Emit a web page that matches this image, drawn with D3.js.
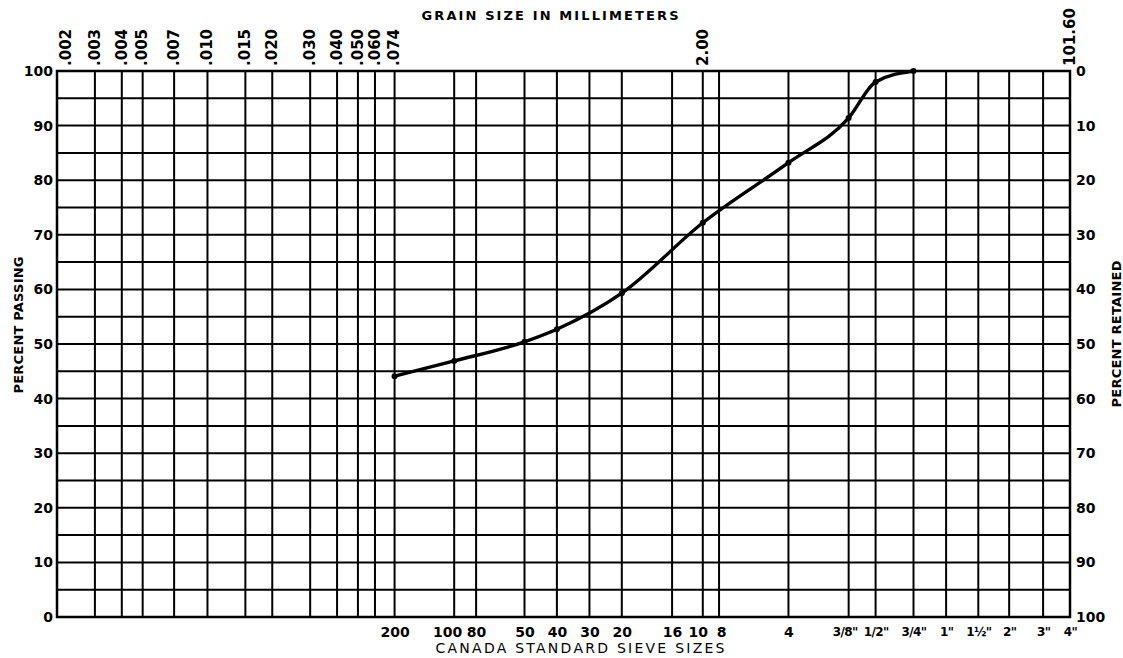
<!DOCTYPE html>
<html>
<head>
<meta charset="utf-8">
<script src="https://cdn.jsdelivr.net/npm/d3@7"></script>
<style>
  body { margin: 0; background: #fff; }
  text { font-family: "DejaVu Sans", sans-serif; fill: #000; }
</style>
</head>
<body>
<script>
// grain size labels along the top (mm)
const grainLabels = [".002", ".003", ".004", ".005", ".007", ".010", ".015", ".020",
  ".030", ".040", ".050", ".060", ".074", "2.00", "101.60"];
const grainMM = [0.002, 0.003, 0.004, 0.005, 0.007, 0.010, 0.015, 0.020,
  0.030, 0.040, 0.050, 0.060, 0.074, 2.00, 101.6];

// canada standard sieves along the bottom, opening in mm as drawn on the sheet
const sieveLabels = ["200", "100", "80", "50", "40", "30", "20", "16", "10", "8", "4",
  "3/8\"", "1/2\"", "3/4\"", "1\"", "1½\"", "2\"", "3\"", "4\""];
const sieveMM = [0.074, 0.14, 0.177, 0.297, 0.42, 0.595, 0.841, 1.44, 2.00, 2.38, 5.0,
  9.52, 12.7, 19.05, 27, 38.1, 53, 76.2, 101.6];

// test result: percent passing at each sieve
const testSieves = [0.074, 0.14, 0.297, 0.42, 0.841, 2.00, 5.0, 9.52, 12.7, 19.05];
const percentPassing = [44.1, 46.9, 50.4, 52.7, 59.3, 72.2, 83.2, 91.4, 98.0, 100];

const passingTicks = [0, 10, 20, 30, 40, 50, 60, 70, 80, 90, 100];
const gridPercents = [0, 5, 10, 15, 20, 25, 30, 35, 40, 45, 50, 55, 60, 65, 70, 75, 80, 85, 90, 95, 100];

const size = { width: 1123, height: 658 };
const plot = { left: 57, right: 1070, top: 71, bottom: 617 };

const svg = d3.select("body").append("svg")
  .attr("width", size.width)
  .attr("height", size.height);

const x = d3.scaleLog().domain([0.002, 101.6]).range([plot.left, plot.right]);
const y = d3.scaleLinear().domain([0, 100]).range([plot.bottom, plot.top]);
const yRet = d3.scaleLinear().domain([100, 0]).range([plot.bottom, plot.top]);

/* grid */
const grid = svg.append("g").attr("class", "grid")
  .attr("stroke", "#000").attr("stroke-width", 2);

grid.selectAll("line.h")
  .data(gridPercents)
  .enter().append("line")
    .attr("class", "h")
    .attr("x1", plot.left).attr("x2", plot.right)
    .attr("y1", d => y(d)).attr("y2", d => y(d));

const vLines = Array.from(new Set(grainMM.concat(sieveMM)));
grid.selectAll("line.v")
  .data(vLines)
  .enter().append("line")
    .attr("class", "v")
    .attr("x1", d => x(d)).attr("x2", d => x(d))
    .attr("y1", plot.top).attr("y2", plot.bottom);

svg.append("rect")
  .attr("x", plot.left).attr("y", plot.top)
  .attr("width", plot.right - plot.left)
  .attr("height", plot.bottom - plot.top)
  .attr("fill", "none").attr("stroke", "#000").attr("stroke-width", 2.5);

/* axes (labels only, grid drawn above) */
const styleAxis = (g, fs) => {
  g.select(".domain").remove();
  g.selectAll(".tick line").remove();
  g.selectAll("text")
    .attr("font-family", "DejaVu Sans, sans-serif")
    .attr("font-weight", "bold")
    .attr("font-size", fs);
};

svg.append("g")
  .attr("transform", `translate(${plot.left},0)`)
  .call(d3.axisLeft(y).tickValues(passingTicks).tickSize(0).tickPadding(4))
  .call(g => styleAxis(g, 14));

svg.append("g")
  .attr("transform", `translate(${plot.right},0)`)
  .call(d3.axisRight(yRet).tickValues(passingTicks).tickSize(0).tickPadding(6))
  .call(g => styleAxis(g, 14));

const bottomAxis = svg.append("g")
  .attr("transform", `translate(0,${plot.bottom})`)
  .call(d3.axisBottom(x).tickValues(sieveMM)
    .tickFormat((d, i) => sieveLabels[i]).tickSize(0).tickPadding(10))
  .call(g => styleAxis(g, 14));
// inch sizes are written smaller and packed tight on the sheet
bottomAxis.selectAll("text")
  .filter((d, i) => sieveLabels[i].includes("\""))
  .attr("font-size", 12)
  .attr("letter-spacing", -0.6);
// crowded pairs are nudged apart, as on the sheet
const nudge = { "100": -7, "10": -5, "8": 2, "3/8\"": -4 };
bottomAxis.selectAll("text")
  .attr("dx", (d, i) => nudge[sieveLabels[i]] || 0);

const topAxis = svg.append("g")
  .attr("transform", `translate(0,${plot.top})`)
  .call(d3.axisTop(x).tickValues(grainMM)
    .tickFormat((d, i) => grainLabels[i]).tickSize(0))
  .call(g => styleAxis(g, 15));
topAxis.selectAll("text")
  .attr("transform", "rotate(-90)")
  .attr("text-anchor", "start")
  .attr("x", 5).attr("y", (d, i) => i === 0 ? 8 : -1).attr("dy", "0.35em");

/* titles */
svg.append("text")
  .attr("x", 550).attr("y", 20)
  .attr("text-anchor", "middle")
  .attr("font-weight", "bold").attr("font-size", 13)
  .attr("textLength", 257).attr("lengthAdjust", "spacing")
  .text("GRAIN SIZE IN MILLIMETERS");

svg.append("text")
  .attr("x", 580).attr("y", 653)
  .attr("text-anchor", "middle")
  .attr("font-size", 14)
  .attr("textLength", 289).attr("lengthAdjust", "spacing")
  .text("CANADA STANDARD SIEVE SIZES");

svg.append("text")
  .attr("transform", "translate(23,325) rotate(-90)")
  .attr("text-anchor", "middle")
  .attr("font-weight", "bold").attr("font-size", 13)
  .attr("textLength", 137).attr("lengthAdjust", "spacing")
  .text("PERCENT PASSING");

svg.append("text")
  .attr("transform", "translate(1121,334) rotate(-90)")
  .attr("text-anchor", "middle")
  .attr("font-weight", "bold").attr("font-size", 13)
  .attr("textLength", 147).attr("lengthAdjust", "spacing")
  .text("PERCENT RETAINED");

/* grading curve */
const pts = testSieves.map((mm, i) => ({ mm, p: percentPassing[i] }));
const line = d3.line()
  .x(d => x(d.mm))
  .y(d => y(d.p))
  .curve(d3.curveMonotoneX);

svg.append("path")
  .datum(pts)
  .attr("d", line)
  .attr("fill", "none")
  .attr("stroke", "#000")
  .attr("stroke-width", 3.4)
  .attr("stroke-linecap", "round");

svg.selectAll("circle.pt")
  .data(pts)
  .enter().append("circle")
    .attr("class", "pt")
    .attr("cx", d => x(d.mm))
    .attr("cy", d => y(d.p))
    .attr("r", 3)
    .attr("fill", "#000");
</script>
</body>
</html>
